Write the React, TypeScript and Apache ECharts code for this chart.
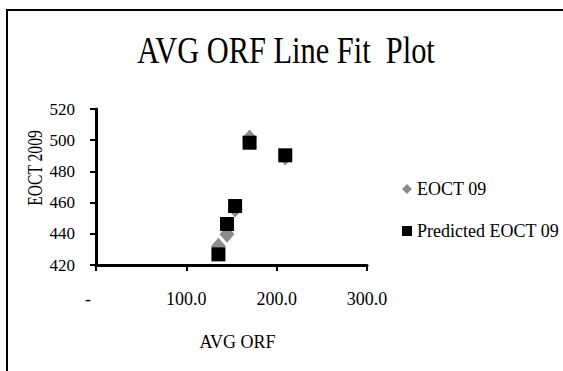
import React, { useEffect, useRef } from "react";
import * as echarts from "echarts";

const avgOrf = [135.5, 145, 154, 170, 209.5];
const eoct09 = [432, 439.7, 455.9, 501.4, 489.2];
const predictedEoct09 = [426.8, 446.3, 457.8, 498.4, 490.3];
const xTicks = [0, 100, 200, 300];
const yTicks = [420, 440, 460, 480, 500, 520];

const FONT = "Liberation Serif";

export default function App() {
  const ref = useRef<HTMLDivElement>(null);
  useEffect(() => {
    document.body.style.margin = "0";
    const chart = echarts.init(ref.current!, null, { renderer: "svg" });
    chart.setOption({
      animation: false,
      backgroundColor: "#ffffff",
      textStyle: { fontFamily: FONT, color: "#000" },
      graphic: [
        {
          type: "rect",
          shape: { x: 7, y: 10, width: 562, height: 370 },
          style: { fill: "none", stroke: "#000", lineWidth: 2 },
          silent: true,
        },
        {
          type: "text",
          x: 286,
          y: 50,
          scaleX: 0.8,
          style: {
            text: "AVG ORF Line Fit  Plot",
            fontFamily: FONT,
            fontSize: 38,
            fill: "#000",
            textAlign: "center",
            textVerticalAlign: "middle",
          },
        },
        {
          type: "text",
          x: 35,
          y: 168,
          rotation: Math.PI / 2,
          scaleX: 0.78,
          style: {
            text: "EOCT 2009",
            fontFamily: FONT,
            fontSize: 20,
            fill: "#000",
            textAlign: "center",
            textVerticalAlign: "middle",
          },
        },
      ],
      grid: { left: 96, top: 109, width: 271, height: 156 },
      legend: {
        orient: "vertical",
        left: 397,
        top: 175,
        itemGap: 24,
        itemWidth: 10,
        itemHeight: 10,
        textStyle: { fontFamily: FONT, fontSize: 18, color: "#000" },
        data: [
          { name: "EOCT 09", icon: "diamond", itemStyle: { color: "#8c8c8c", opacity: 1 } },
          { name: "Predicted EOCT 09", icon: "rect", itemStyle: { color: "#000", opacity: 1 } },
        ],
      },
      xAxis: {
        type: "value",
        min: xTicks[0],
        max: xTicks[xTicks.length - 1],
        interval: 100,
        name: "AVG ORF",
        nameLocation: "middle",
        nameGap: 68,
        nameTextStyle: { fontFamily: FONT, fontSize: 18, color: "#000", padding: [0, 0, 0, 12] },
        splitLine: { show: false },
        axisLine: { onZero: false, lineStyle: { color: "#000", width: 3 } },
        axisTick: { show: true, inside: false, length: 6, lineStyle: { color: "#000", width: 2 } },
        axisLabel: {
          margin: 25,
          fontFamily: FONT,
          fontSize: 18,
          color: "#000",
          formatter: (v: number) => (v === 0 ? "{z|-}" : v.toFixed(1)),
          rich: { z: { fontFamily: FONT, fontSize: 18, color: "#000", padding: [0, 16, 0, 0] } },
        },
      },
      yAxis: {
        type: "value",
        min: yTicks[0],
        max: yTicks[yTicks.length - 1],
        interval: 20,
        splitLine: { show: false },
        axisLine: { show: true, onZero: false, lineStyle: { color: "#000", width: 3 } },
        axisTick: { show: true, inside: false, length: 6, lineStyle: { color: "#000", width: 2 } },
        axisLabel: { margin: 21, fontFamily: FONT, fontSize: 17, color: "#000" },
      },
      series: [
        {
          name: "EOCT 09",
          type: "scatter",
          symbol: "diamond",
          symbolSize: [15, 17],
          itemStyle: { color: "#8c8c8c", opacity: 1 },
          data: avgOrf.map((x, i) => [x, eoct09[i]]),
          z: 2,
        },
        {
          name: "Predicted EOCT 09",
          type: "scatter",
          symbol: "rect",
          symbolSize: 14,
          itemStyle: { color: "#000", opacity: 1 },
          data: avgOrf.map((x, i) => [x, predictedEoct09[i]]),
          z: 3,
        },
      ],
    });
    return () => chart.dispose();
  }, []);
  return <div ref={ref} style={{ width: 563, height: 371 }} />;
}
